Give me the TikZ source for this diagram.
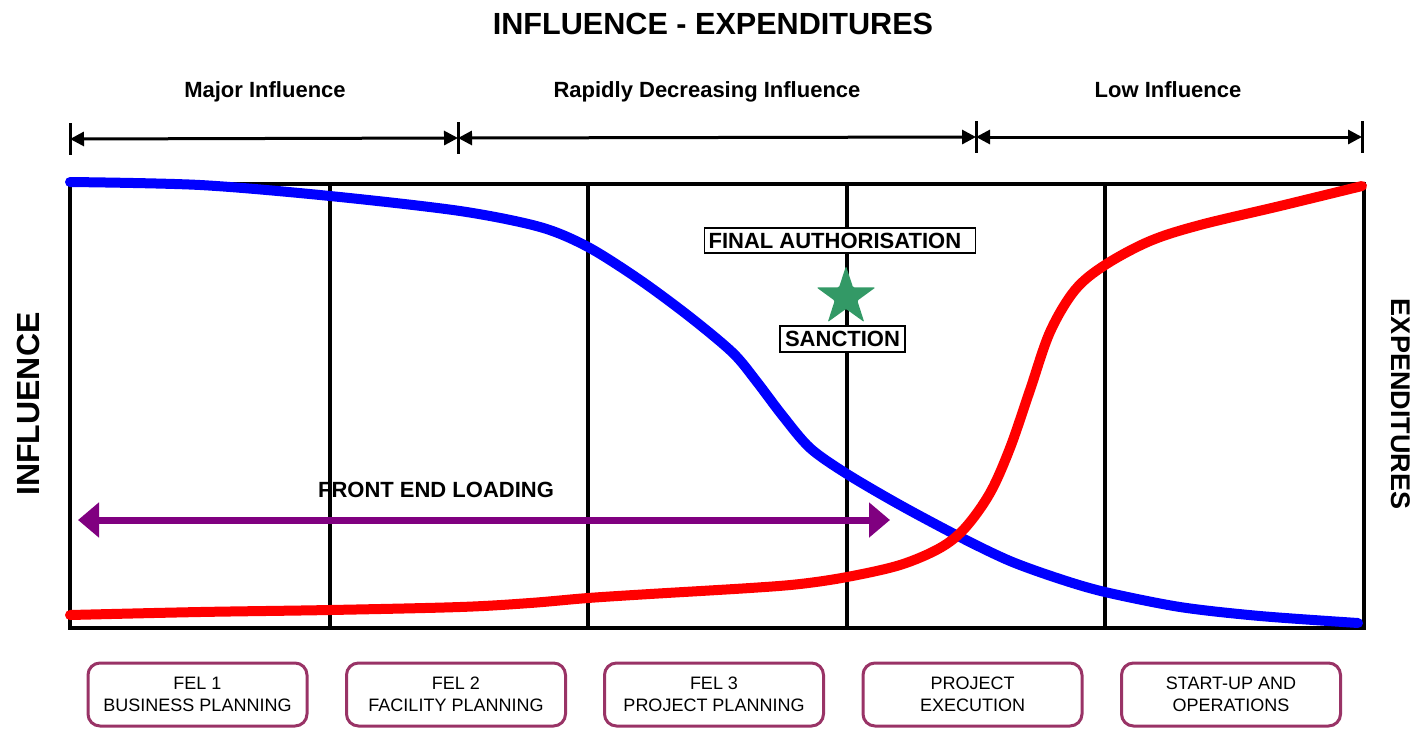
\documentclass[tikz,border=0pt]{standalone}
\usepackage{fontspec}
\setmainfont{Liberation Sans}
\usetikzlibrary{arrows.meta,shapes.geometric}
\definecolor{curveBlue}{RGB}{0,0,255}
\definecolor{curveRed}{RGB}{255,0,0}
\definecolor{felPurple}{RGB}{128,0,128}
\definecolor{starGreen}{RGB}{51,153,102}
\definecolor{phaseEdge}{RGB}{153,51,102}

\begin{document}
\begin{tikzpicture}[x=0.5pt,y=-0.5pt,
  heading/.style={font=\bfseries\fontsize{11}{13}\selectfont, inner sep=0pt},
  axislabel/.style={font=\bfseries\fontsize{16}{18}\selectfont, inner sep=0pt},
  gridline/.style={line width=2pt},
  tick/.style={line width=1.5pt},
  span/.style={line width=1.5pt, {Triangle[length=7pt,width=7pt]}-{Triangle[length=7pt,width=7pt]}},
  curve/.style={line width=5pt, line cap=round, line join=round},
  milestone/.style={draw, line width=0.6pt, fill=white, inner ysep=0pt, inner xsep=2pt,
    font=\bfseries\fontsize{11}{13}\selectfont},
  phase/.style={draw=phaseEdge, line width=1.5pt, rounded corners=6pt, fill=white,
    minimum width=109.5pt, minimum height=31.5pt, align=center, inner sep=0pt,
    font=\fontsize{9}{11}\selectfont}
]
\useasboundingbox (0,0) rectangle (1416,728);

% title and influence bands
\node[font=\bfseries\fontsize{15.3}{18}\selectfont, inner sep=0pt] (title) at (713,24) {INFLUENCE - EXPENDITURES};
\node[heading] (major) at (265,92) {Major Influence};
\node[heading] (rapid) at (707,92) {Rapidly Decreasing Influence};
\node[heading] (low) at (1168,90) {Low Influence};

% band limits
\coordinate (t1) at (70,139);
\coordinate (t2) at (458,138);
\coordinate (t3) at (976,137);
\coordinate (t4) at (1362,137);
\foreach \p in {t1,t2,t3,t4}
  \draw[tick] ([yshift=8pt]\p) -- ([yshift=-8pt]\p);
\draw[span] (t1) -- (t2);
\draw[span] (t2) -- (t3);
\draw[span] (t3) -- (t4);

% chart frame with phase columns
\draw[gridline] (70,184) rectangle (1364,628);
\foreach \x in {330,588,847,1105}
  \draw[gridline] (\x,184) -- (\x,628);

% axis labels
\node[axislabel, rotate=90] (influence) at (28,404) {INFLUENCE};
\node[font=\bfseries\fontsize{13.5}{16}\selectfont, inner sep=0pt, rotate=-90] (expenditures) at (1401,404) {EXPENDITURES};

% front end loading span
\node[heading] (fel) at (436,490) {FRONT END LOADING};
\coordinate (felStart) at (78,520);
\coordinate (felEnd) at (890,520);
\draw[felPurple, line width=3.5pt, {Triangle[length=10.5pt,width=17pt]}-{Triangle[length=10.5pt,width=17pt]}] (felStart) -- (felEnd);

% influence curve
\draw[curve, curveBlue] plot[smooth, tension=0.5] coordinates {
  (70,182) (200,185) (330,196) (460,211) (540,227) (588,247) (640,280)
  (690,317) (733,353) (757,382) (782,415) (810,448) (847,474) (900,505)
  (960,537) (1010,561) (1060,579) (1105,592) (1180,607) (1260,616) (1358,623)};

% expenditure curve
\draw[curve, curveRed] plot[smooth, tension=0.55] coordinates {
  (70,615) (200,612) (330,610) (460,607) (530,603) (588,598) (650,594)
  (750,588) (800,584) (847,577) (900,565) (940,548) (965,528) (990,493)
  (1010,448) (1030,390) (1050,332) (1075,290) (1105,265) (1150,241)
  (1200,225) (1280,206) (1362,186)};

% sanction milestone
\node[milestone, anchor=west, minimum height=12.5pt] (auth) at (704,240.5) {FINAL AUTHORISATION\kern5pt};
\node[star, star points=5, star point ratio=2.6, fill=starGreen, minimum size=31pt, inner sep=0pt, rounded corners=0.6pt] (sanctionStar) at (846,297) {};
\node[milestone, minimum width=62.5pt, minimum height=13pt] (sanction) at (842.5,339) {SANCTION};

% project phases
\node[phase] (p1) at (197.5,694.5) {FEL 1\\BUSINESS PLANNING};
\node[phase] (p2) at (456,694.5) {FEL 2\\FACILITY PLANNING};
\node[phase] (p3) at (714,694.5) {FEL 3\\PROJECT PLANNING};
\node[phase] (p4) at (972.5,694.5) {PROJECT\\EXECUTION};
\node[phase] (p5) at (1231,694.5) {START-UP AND\\OPERATIONS};
\end{tikzpicture}
\end{document}
